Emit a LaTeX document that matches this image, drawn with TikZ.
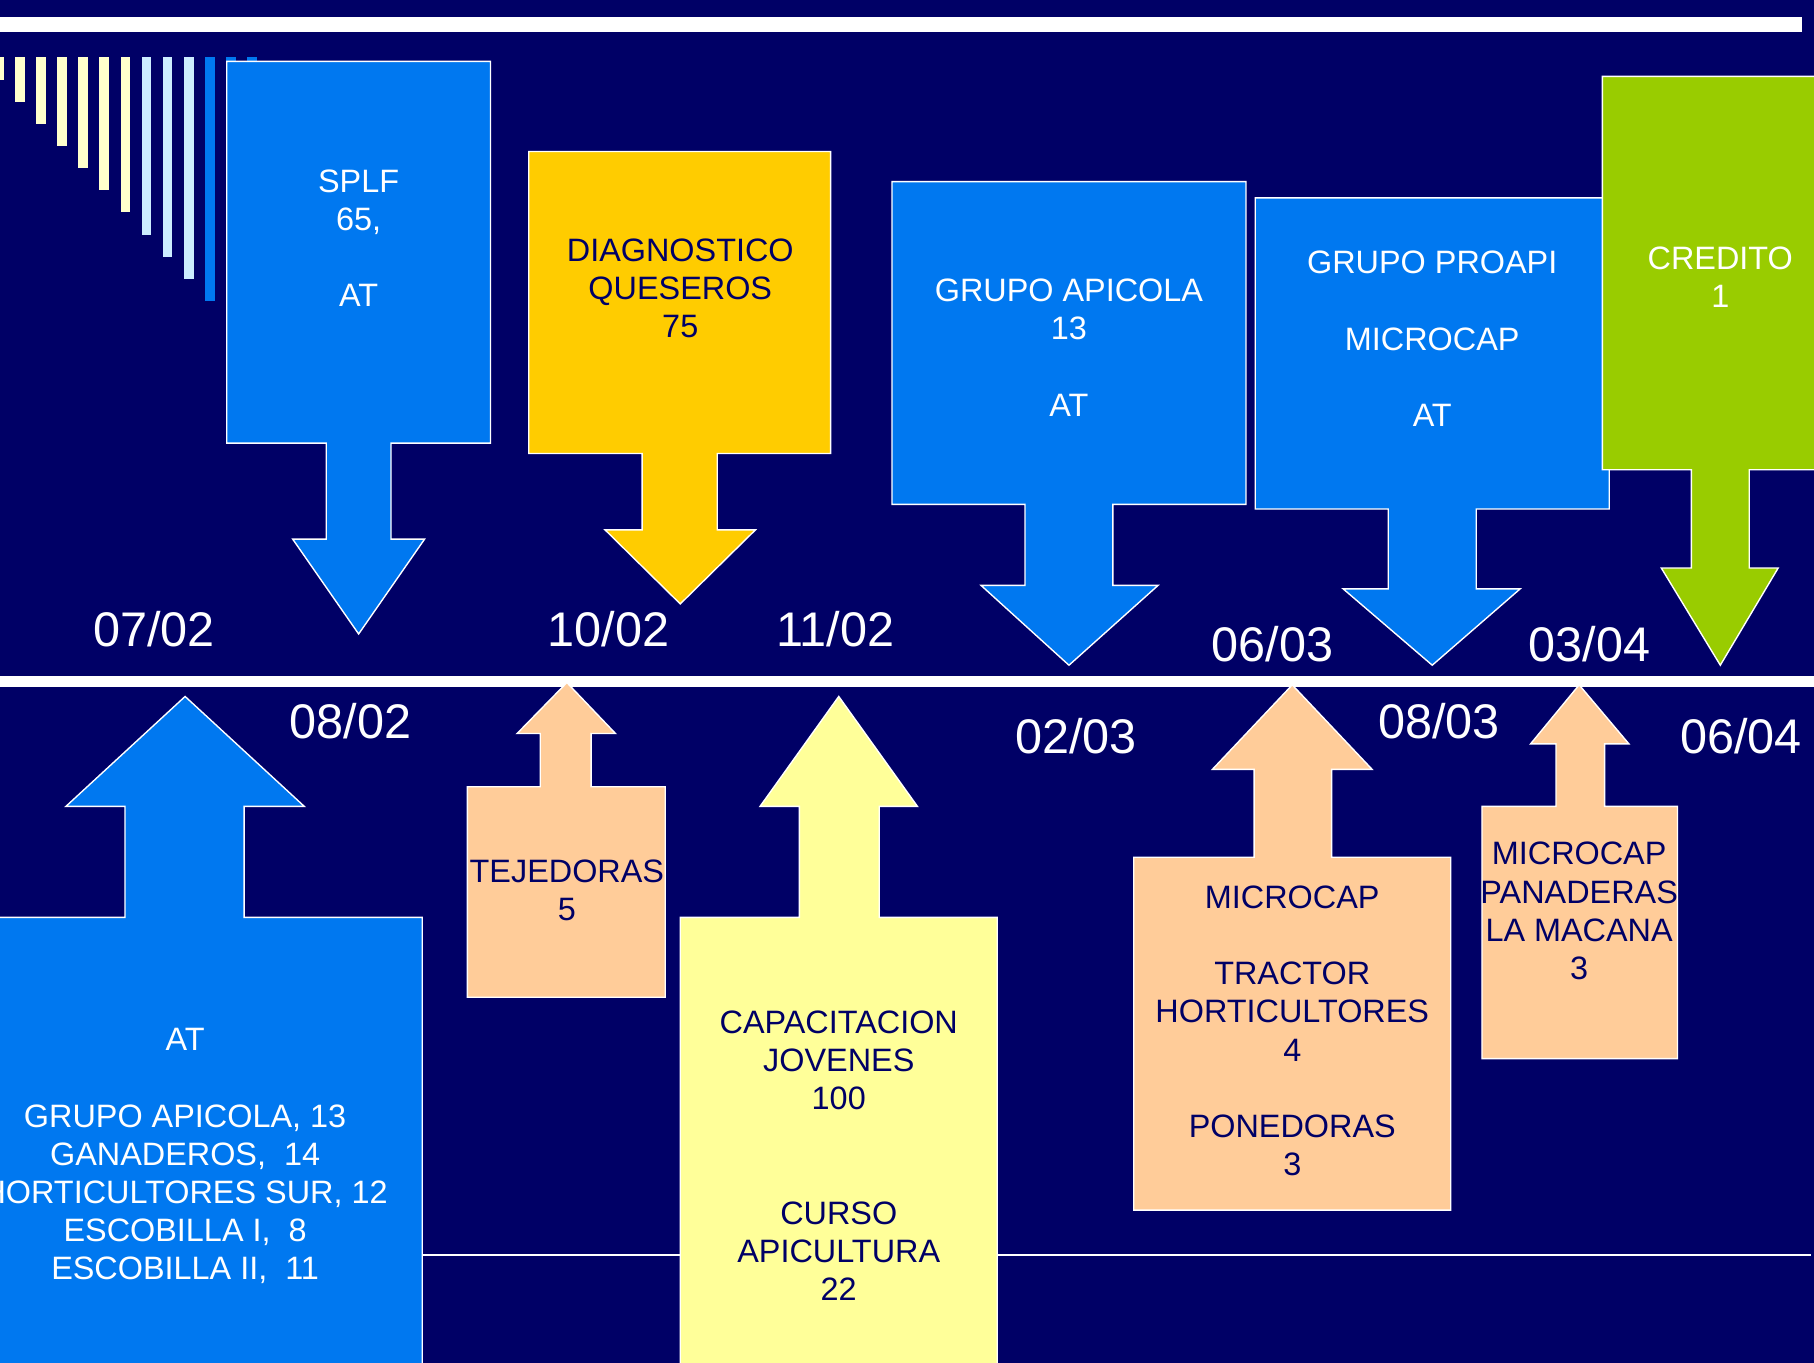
\documentclass[tikz,border=0pt]{standalone}
\usepackage{fontspec}
\setmainfont{Liberation Sans}

\definecolor{navy}{RGB}{0,0,102}
\definecolor{boxblue}{RGB}{0,120,240}
\definecolor{boxgold}{RGB}{255,204,0}
\definecolor{boxgreen}{RGB}{153,204,0}
\definecolor{boxpeach}{RGB}{255,204,153}
\definecolor{boxlemon}{RGB}{255,255,153}
\definecolor{barcream}{RGB}{255,255,204}
\definecolor{barsky}{RGB}{204,236,255}

\tikzset{every picture/.style={line width=0.5pt}}
\tikzset{
  callout/.style={draw=white, line width=0.6pt},
  boxtext/.style={inner sep=0.75pt, align=center, font=\fontsize{14}{16.5}\selectfont},
  datetext/.style={inner sep=0.75pt, text=white, font=\fontsize{21}{25}\selectfont},
}

\begin{document}
\begin{tikzpicture}[x=0.5pt,y=0.5pt,yscale=-1,xscale=1]
\useasboundingbox (0,0) rectangle (1568,1178);
\clip (0,0) rectangle (1568,1178);
\fill[navy] (0,0) rectangle (1568,1178);

% Rules
\fill[white] (0,15) rectangle (1558,28);
\fill[white] (0,584) rectangle (1568,594);
\draw[white, line width=1pt] (0,1085) -- (1565,1085);

% Bars
\foreach \i in {0,...,6}
  \fill[barcream] ({-5+18.2*\i},49) rectangle ({3.5+18.2*\i},{69+19.1*\i});
\foreach \i in {7,8,9}
  \fill[barsky] ({-5+18.2*\i},49) rectangle ({3.5+18.2*\i},{69+19.1*\i});
\foreach \i in {10,11,12}
  \fill[boxblue] ({-5+18.2*\i},49) rectangle ({3.5+18.2*\i},{69+19.1*\i});

% Callout
\draw[callout, fill=boxblue] (196,53) -- (424,53) -- (424,383) -- (338,383) -- (338,466) -- (367,466) -- (310,548) -- (253,466) -- (282,466) -- (282,383) -- (196,383) -- cycle;
\node[boxtext, text=white] (splf) at (310,206) {SPLF\\65,\\[16.5pt]AT};
% Callout
\draw[callout, fill=boxgold] (457,131) -- (718,131) -- (718,392) -- (620,392) -- (620,458) -- (653,458) -- (588,522) -- (523,458) -- (555,458) -- (555,392) -- (457,392) -- cycle;
\node[boxtext, text=navy] (diag) at (588,249.5) {DIAGNOSTICO\\QUESEROS\\75};
% Callout
\draw[callout, fill=boxblue] (771,157) -- (1077,157) -- (1077,436) -- (962,436) -- (962,506) -- (1001,506) -- (924,575) -- (848,506) -- (886,506) -- (886,436) -- (771,436) -- cycle;
\node[boxtext, text=white] (apicola) at (924,300.5) {GRUPO APICOLA\\13\\[16.5pt]AT};
% Callout
\draw[callout, fill=boxblue] (1085,171) -- (1391,171) -- (1391,440) -- (1276,440) -- (1276,509) -- (1314,509) -- (1238,575) -- (1161,509) -- (1200,509) -- (1200,440) -- (1085,440) -- cycle;
\node[boxtext, text=white] (proapi) at (1238,293) {GRUPO PROAPI\\[16.5pt]MICROCAP\\[16.5pt]AT};
% Callout
\draw[callout, fill=boxgreen] (1385,66) -- (1580,66) -- (1580,406) -- (1512,406) -- (1512,491) -- (1537,491) -- (1487,575) -- (1436,491) -- (1462,491) -- (1462,406) -- (1385,406) -- cycle;
\node[boxtext, text=white] (credito) at (1487,239.5) {CREDITO\\1};

% Callout
\draw[callout, fill=boxblue] (-45,1190) -- (-45,793) -- (108,793) -- (108,697) -- (57,697) -- (160,602) -- (263,697) -- (211,697) -- (211,793) -- (365,793) -- (365,1190) -- cycle;
\node[boxtext, text=white] (atgroups) at (160,999.5) {AT\\[16.5pt]GRUPO APICOLA, 13\\GANADEROS,\ \ 14\\HORTICULTORES SUR, 12\\ESCOBILLA I,\ \ 8\\ESCOBILLA II,\ \ 11};
% Callout
\draw[callout, fill=boxpeach] (404,862) -- (404,680) -- (467,680) -- (467,634) -- (447,634) -- (490,590) -- (532,634) -- (511,634) -- (511,680) -- (575,680) -- (575,862) -- cycle;
\node[boxtext, text=navy] (tejedoras) at (490,769.5) {TEJEDORAS\\5};
% Callout
\draw[callout, fill=boxlemon] (588,1190) -- (588,793) -- (691,793) -- (691,697) -- (657,697) -- (725,602) -- (793,697) -- (760,697) -- (760,793) -- (862,793) -- (862,1190) -- cycle;
\node[boxtext, text=navy] (jovenes) at (725,999) {CAPACITACION\\JOVENES\\100\\[33pt]CURSO\\APICULTURA\\22};
% Callout
\draw[callout, fill=boxpeach] (980,1046) -- (980,741) -- (1084,741) -- (1084,665) -- (1048,665) -- (1117,592) -- (1186,665) -- (1151,665) -- (1151,741) -- (1254,741) -- (1254,1046) -- cycle;
\node[boxtext, text=navy] (tractor) at (1117,891) {MICROCAP\\[16.5pt]TRACTOR\\HORTICULTORES\\4\\[16.5pt]PONEDORAS\\3};
% Callout
\draw[callout, fill=boxpeach] (1281,915) -- (1281,697) -- (1345,697) -- (1345,643) -- (1323,643) -- (1365,592) -- (1408,643) -- (1387,643) -- (1387,697) -- (1450,697) -- (1450,915) -- cycle;
\node[boxtext, text=navy] (panaderas) at (1365,787.5) {MICROCAP\\PANADERAS\\LA MACANA\\3};

% Dates
\node[datetext] (d0702) at (133,544) {07/02};
\node[datetext] (d0802) at (303,623) {08/02};
\node[datetext] (d1002) at (526,544) {10/02};
\node[datetext] (d1102) at (722,544) {11/02};
\node[datetext] (d0203) at (930,636) {02/03};
\node[datetext] (d0603) at (1100,557) {06/03};
\node[datetext] (d0803) at (1244,623) {08/03};
\node[datetext] (d0304) at (1374,557) {03/04};
\node[datetext] (d0604) at (1505,636) {06/04};

\end{tikzpicture}
\end{document}
